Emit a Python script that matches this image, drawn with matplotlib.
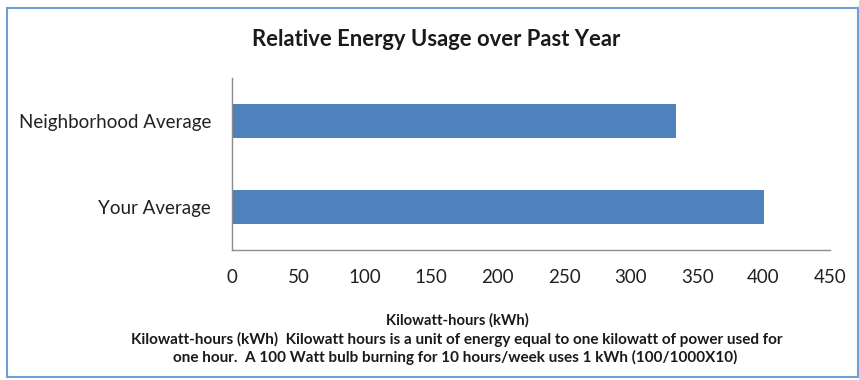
import matplotlib
matplotlib.use("Agg")
import matplotlib.pyplot as plt
from matplotlib.patches import Rectangle

categories = ["Your Average", "Neighborhood Average"]
usage_kwh = [400, 334]
x_ticks = [0, 50, 100, 150, 200, 250, 300, 350, 400, 450]

title = "Relative Energy Usage over Past Year"
x_label = "Kilowatt-hours (kWh)"
note_lines = [
    "Kilowatt-hours (kWh)  Kilowatt hours is a unit of energy equal to one kilowatt of power used for",
    "one hour.  A 100 Watt bulb burning for 10 hours/week uses 1 kWh (100/1000X10)",
]

plt.rcParams["font.family"] = ["Lato", "DejaVu Sans"]

W, H = 859, 380
fig = plt.figure(figsize=(W / 100, H / 100), dpi=100)
fig.patch.set_facecolor("white")

# chart frame
fig.add_artist(Rectangle((7 / W, 3 / H), (W - 8) / W, (H - 11) / H,
                         transform=fig.transFigure, fill=False,
                         edgecolor="#6f9fd6", linewidth=1.5))

ax = fig.add_axes([232 / W, 1 - 250 / H, (830 - 232) / W, (250 - 78) / H])
ypos = list(range(len(categories)))
ax.barh(ypos, usage_kwh, height=0.4, color="#4f81bd")
ax.set_ylim(-0.5, len(categories) - 0.5)
ax.set_xlim(0, 450)
ax.set_xticks(x_ticks)
ax.set_xticklabels([str(t) for t in x_ticks], fontsize=13.5, color="#222222")
ax.set_yticks(ypos)
ax.set_yticklabels(categories, fontsize=13.5, color="#222222")
ax.tick_params(axis="x", length=0, pad=14)
ax.tick_params(axis="y", length=0, pad=15)
for side in ("top", "right"):
    ax.spines[side].set_visible(False)
for side in ("left", "bottom"):
    ax.spines[side].set_color("#8c8c8c")
    ax.spines[side].set_linewidth(1.0)

fig.text(436 / W, 1 - 40 / H, title, ha="center", va="center",
         fontsize=15.8, fontweight="bold", color="#1a1a1a")
fig.text(457 / W, 1 - 320 / H, x_label, ha="center", va="center",
         fontsize=10.6, fontweight="bold", color="#1a1a1a")
fig.text(457 / W, 1 - 339 / H, note_lines[0], ha="center", va="center",
         fontsize=11, fontweight="bold", color="#1a1a1a")
fig.text(455 / W, 1 - 357 / H, note_lines[1], ha="center", va="center",
         fontsize=11, fontweight="bold", color="#1a1a1a")

fig.savefig("out.png", dpi=100)
